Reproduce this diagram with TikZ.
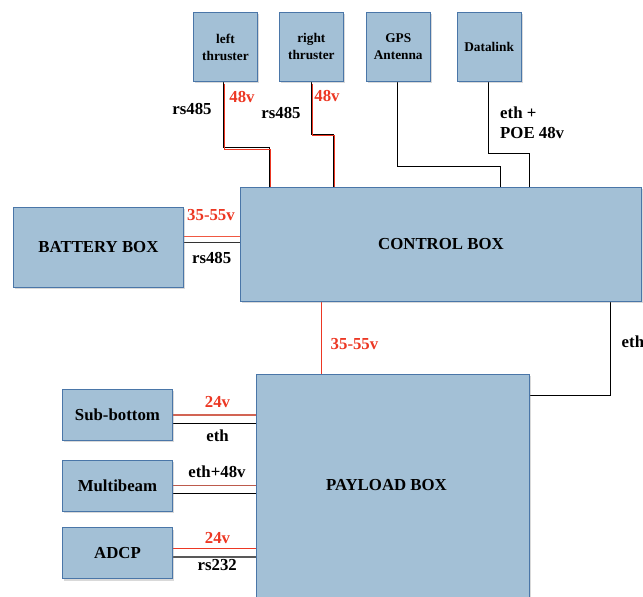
\documentclass[tikz,border=0pt]{standalone}
\usepackage{fontspec}
\setmainfont{Liberation Serif}
\usetikzlibrary{positioning, shadows, backgrounds}
\definecolor{boxfill}{RGB}{163,192,214}
\definecolor{boxline}{RGB}{74,118,168}
\definecolor{volt}{RGB}{236,55,35}
\definecolor{dimvolt}{RGB}{210,100,84}
\definecolor{softvolt}{RGB}{240,88,66}

\begin{document}
\begin{tikzpicture}[
  x=1pt, y=-1pt,
  font=\fontsize{16.8}{20}\selectfont\bfseries,
  box/.style={
    draw=boxline,
    fill=boxfill,
    line width=0.9pt,
    align=center,
    inner sep=2pt,
    drop shadow={shadow xshift=1.8pt, shadow yshift=-1.8pt, opacity=0.3},
  },
  unit/.style={box, minimum width=64pt, minimum height=69pt,
    font=\fontsize{13.3}{17}\selectfont\bfseries},
  sensor/.style={box, minimum width=110pt, minimum height=51pt},
  sig/.style={draw=black, line width=0.9pt},
  pwr/.style={draw=volt, line width=0.9pt},
  dimpwr/.style={draw=dimvolt, line width=1.1pt},
  twin/.style={pwr, transform canvas={shift={(1.6pt,-1.6pt)}}},
  tag/.style={inner sep=0pt},
  vtag/.style={tag, text=volt},
]
\useasboundingbox (0,0) rectangle (643,597);

% ---- units on the mast, left to right -------------------------------------
\node[unit, anchor=north west] (lthr) at (193,12) {left\\thruster};
\node[unit, right=21pt of lthr] (rthr) {right\\thruster};
\node[unit, right=22pt of rthr] (gps) {GPS\\Antenna};
\node[unit, right=26pt of gps] (dlink) {Datalink};

% ---- the big boxes ----------------------------------------------------------
\node[box, anchor=north west, minimum width=401pt, minimum height=114pt]
  (ctrl) at (240,187) {CONTROL BOX};
\node[box, anchor=north west, minimum width=170pt, minimum height=80pt]
  (batt) at (13,207) {BATTERY BOX};
% runs off the bottom of the page, so its text sits above the middle
\node[box, anchor=north west, minimum width=273pt, minimum height=250pt,
  label={[name=paytext, xshift=-6.5pt, yshift=14pt]center:PAYLOAD BOX}]
  (payload) at (256,374) {};

% ---- sensors hanging off the payload ----------------------------------------
\node[sensor, anchor=north west] (subbot) at (62,389) {Sub-bottom};
\node[sensor, below=19pt of subbot] (mbeam) {Multibeam};
\node[sensor, below=15.5pt of mbeam] (adcp) {ADCP};

% ---- wires, kept under the boxes --------------------------------------------
\begin{pgfonlayer}{background}
  \draw[sig]  ([xshift=-2.3pt]lthr.south) -- ++(0,66) -| ([xshift=29.3pt]ctrl.north west);
  \draw[twin] ([xshift=-2.3pt]lthr.south) -- ++(0,66) -| ([xshift=29.3pt]ctrl.north west);
  \draw[sig]  ([xshift=-0.3pt]rthr.south) -- ++(0,52.3) -| ([xshift=93pt]ctrl.north west);
  \draw[twin] ([xshift=-0.3pt]rthr.south) -- ++(0,52.3) -| ([xshift=93pt]ctrl.north west);
  \draw[sig] ([xshift=-1pt]gps.south) -- ++(0,84.3) -| ([xshift=260.7pt]ctrl.north west);
  \draw[sig] ([xshift=-0.7pt]dlink.south) -- ++(0,71.3) -| ([xshift=289pt]ctrl.north west);

  \draw[pwr, draw=softvolt, line width=1.1pt] ([yshift=11.3pt]batt.east) -- ([yshift=11.3pt]batt.east -| ctrl.west);
  \draw[sig, draw=black!80] ([yshift=4.7pt]batt.east) -- ([yshift=4.7pt]batt.east -| ctrl.west);

  \draw[pwr] ([xshift=81.7pt]ctrl.south west) -- ([xshift=81.7pt]ctrl.south west |- payload.north);
  \draw[sig] ([xshift=-31pt]ctrl.south east) |- ([yshift=-21.3pt]payload.north east);

  \draw[dimpwr] (subbot.east) -- (subbot.east -| payload.west);
  \draw[sig] ([yshift=-8.3pt]subbot.east) -- ([yshift=-8.3pt]subbot.east -| payload.west);
  \draw[dimpwr, draw=dimvolt!90!black] (mbeam.east) -- (mbeam.east -| payload.west);
  \draw[sig] ([yshift=-7.8pt]mbeam.east) -- ([yshift=-7.8pt]mbeam.east -| payload.west);
  \draw[pwr] ([yshift=4.7pt]adcp.east) -- ([yshift=4.7pt]adcp.east -| payload.west);
  \draw[sig, draw=black!65, line width=1.4pt] ([yshift=-3.7pt]adcp.east) -- ([yshift=-3.7pt]adcp.east -| payload.west);
\end{pgfonlayer}

% ---- wire labels -------------------------------------------------------------
\node[tag] (lrs) at (192,109) {rs485};
\node[vtag] (lv) at (242,96.7) {48v};
\node[tag] (rrs) at (281,113.3) {rs485};
\node[vtag] (rv) at (327,96) {48v};
\node[tag, align=left, anchor=west] (dltag) at (500,122.5) {eth +\\POE 48v};
\node[vtag] (battv) at (211,215) {35-55v};
\node[tag] (battrs) at (211.7,258) {rs485};
\node[vtag] (payv) at (354.5,344) {35-55v};
\node[tag, anchor=west] (ethtag) at (621.5,341.7) {eth};
\node[vtag] (subv) at (217.5,402.3) {24v};
\node[tag] (subeth) at (217.5,435.7) {eth};
\node[tag] (mbtag) at (217,471.7) {eth+48v};
\node[vtag] (adcpv) at (217.5,538.3) {24v};
\node[tag] (adcprs) at (217.3,565) {rs232};

\end{tikzpicture}
\end{document}
